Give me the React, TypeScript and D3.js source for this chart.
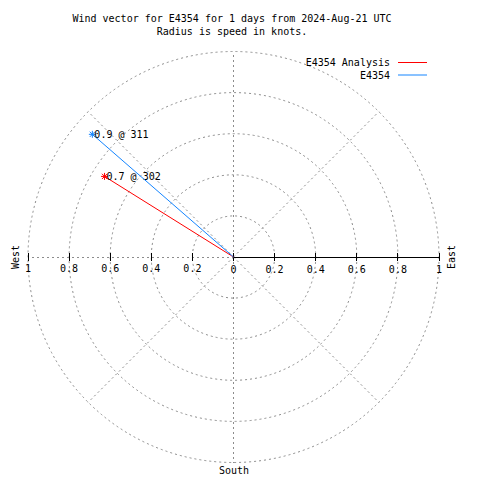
import React from "react";
import * as d3 from "d3";

const titleLines = ["Wind vector for E4354 for 1 days from 2024-Aug-21 UTC", "Radius is speed in knots."];
const seriesNames = ["E4354 Analysis", "E4354"];
const speeds = [0.74, 0.91];
const directions = [302, 311];
const seriesColors = ["#ff0000", "#1485ff"];
const ringValues = [0.2, 0.4, 0.6, 0.8, 1.0];
const spokeAngles = [0, 45, 90, 135, 180, 225, 270, 315];
const tickValues = [0, 0.2, 0.4, 0.6, 0.8, 1];
const compassLabels = ["West", "East", "South"];

const W = 480, H = 480;
const cx = 233.5, cy = 257;
const font = "'DejaVu Sans Mono', 'Liberation Mono', monospace";

export default function App() {
  const r = d3.scaleLinear().domain([0, 1]).range([0, 205.5]);
  const pt = (speed: number, bearing: number) => {
    const a = (bearing * Math.PI) / 180;
    return [cx + r(speed) * Math.sin(a), cy - r(speed) * Math.cos(a)];
  };
  const fmt = (v: number) => (v === 0 ? "0" : d3.format("~g")(v));
  const grid = { stroke: "#8c8c8c", strokeWidth: 1, strokeDasharray: "2,3", fill: "none" };

  return (
    <svg width={W} height={H} style={{ position: "absolute", left: 0, top: 0, background: "#fff" }} fontFamily={font} fontSize={10}>
      <rect width={W} height={H} fill="#fff" />
      {titleLines.map((t, i) => (
        <text key={t} x={232} y={22 + i * 13} textAnchor="middle">{t}</text>
      ))}
      {ringValues.map((v) => (
        <circle key={v} cx={cx} cy={cy} r={r(v)} {...grid} />
      ))}
      {spokeAngles.map((a) => {
        const [x, y] = pt(1, a);
        return <line key={a} x1={cx} y1={cy} x2={x} y2={y} {...grid} shapeRendering={a % 90 === 0 ? "crispEdges" : undefined} />;
      })}
      <line x1={cx} y1={cy} x2={cx + r(1)} y2={cy} stroke="#000" strokeWidth={1} shapeRendering="crispEdges" />
      {tickValues.map((v) => (
        <g key={"t" + v}>
          <line x1={cx + r(v)} x2={cx + r(v)} y1={cy - 4} y2={cy + 4} stroke="#000" shapeRendering="crispEdges" />
          {v > 0 && <line x1={cx - r(v)} x2={cx - r(v)} y1={cy - 4} y2={cy + 4} stroke="#000" shapeRendering="crispEdges" />}
          <text x={cx + r(v)} y={cy + 16} textAnchor="middle">{fmt(v)}</text>
          {v > 0 && <text x={cx - r(v)} y={cy + 15} textAnchor="middle">{fmt(v)}</text>}
        </g>
      ))}
      <text transform={`translate(19,${cy}) rotate(-90)`} textAnchor="middle">{compassLabels[0]}</text>
      <text transform={`translate(455,${cy}) rotate(-90)`} textAnchor="middle">{compassLabels[1]}</text>
      <text x={234} y={474} textAnchor="middle">{compassLabels[2]}</text>
      {speeds.map((s, i) => {
        const [x, y] = pt(s, directions[i]);
        const c = seriesColors[i];
        const m = 3.5;
        return (
          <g key={i}>
            <line x1={cx} y1={cy} x2={x} y2={y} stroke={c} strokeWidth={1} />
            <g stroke={c} strokeWidth={1}>
              <line x1={x - m} x2={x + m} y1={y} y2={y} />
              <line x1={x} x2={x} y1={y - m} y2={y + m} />
              <line x1={x - m * 0.75} x2={x + m * 0.75} y1={y - m * 0.75} y2={y + m * 0.75} />
              <line x1={x - m * 0.75} x2={x + m * 0.75} y1={y + m * 0.75} y2={y - m * 0.75} />
            </g>
            <text x={x + 2} y={y + 3.5}>{`${s.toFixed(1)} @ ${directions[i]}`}</text>
          </g>
        );
      })}
      {seriesNames.map((n, i) => (
        <g key={n}>
          <text x={390} y={66 + i * 12.5} textAnchor="end">{n}</text>
          <line x1={398} x2={427} y1={62.5 + i * 12.5} y2={62.5 + i * 12.5} stroke={seriesColors[i]} strokeWidth={1} />
        </g>
      ))}
    </svg>
  );
}
